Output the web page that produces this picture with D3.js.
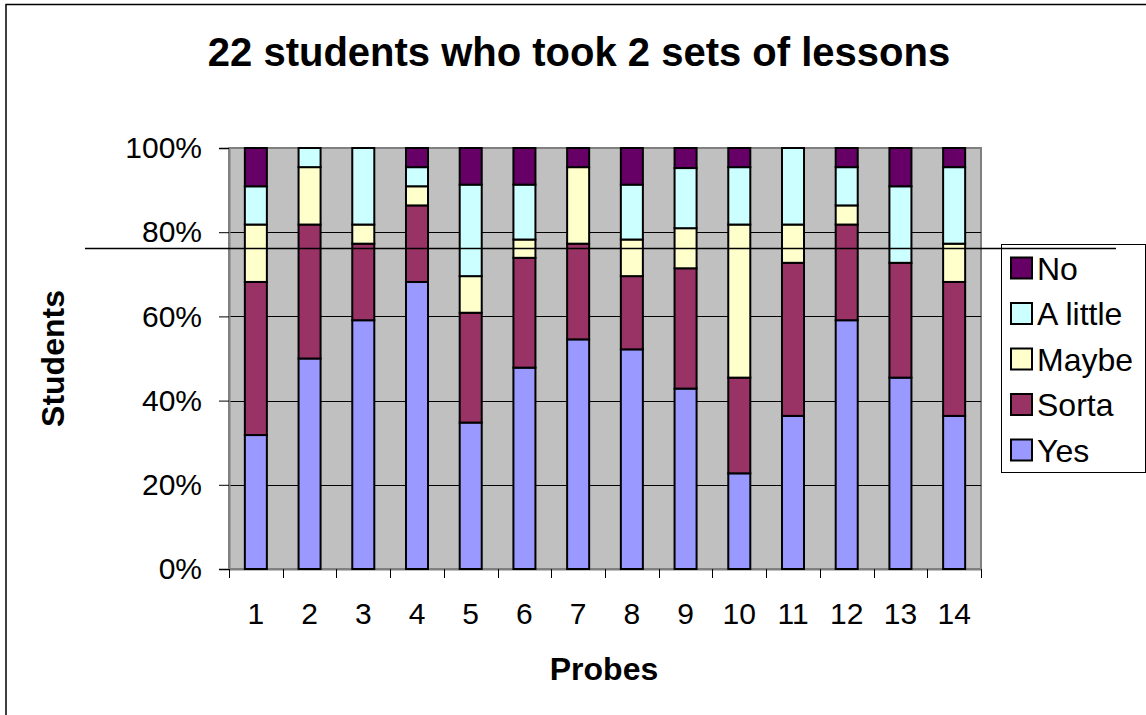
<!DOCTYPE html>
<html>
<head>
<meta charset="utf-8">
<script src="https://cdn.jsdelivr.net/npm/d3@7"></script>
<style>
    body { margin: 0; background: #fff; }
    svg { display: block; font-family: "Liberation Sans", Arial, sans-serif; }
</style>
</head>
<body>
<div id="chart"></div>
<script>
const width = 1146;
const height = 715;

// answer counts per probe (22-ish students each)
const probes = ['1', '2', '3', '4', '5', '6', '7', '8', '9', '10', '11', '12', '13', '14'];
const yes = [7, 11, 13, 15, 8, 11, 12, 12, 9, 5, 8, 13, 10, 8];
const sorta = [8, 7, 4, 4, 6, 6, 5, 4, 6, 5, 8, 5, 6, 7];
const maybe = [3, 3, 1, 1, 2, 1, 4, 2, 2, 8, 2, 1, 0, 2];
const aLittle = [2, 1, 4, 1, 5, 3, 0, 3, 3, 3, 4, 2, 4, 4];
const no = [2, 0, 0, 1, 2, 2, 1, 2, 1, 1, 0, 1, 2, 1];

const seriesNames = ['Yes', 'Sorta', 'Maybe', 'A little', 'No'];
const seriesColors = ['#9999ff', '#993366', '#ffffcc', '#ccffff', '#660066'];
const yTicks = [0, 0.2, 0.4, 0.6, 0.8, 1];

const rows = probes.map((p, i) => ({
    probe: p,
    'Yes': yes[i],
    'Sorta': sorta[i],
    'Maybe': maybe[i],
    'A little': aLittle[i],
    'No': no[i]
}));

const plot = { left: 229, right: 981, top: 148, bottom: 569 };

const svg = d3.select('#chart').append('svg')
    .attr('width', width)
    .attr('height', height);

// outer chart frame (only top and left edges show)
svg.append('rect')
    .attr('x', 6)
    .attr('y', 4.5)
    .attr('width', width + 20)
    .attr('height', height + 20)
    .attr('fill', '#fff')
    .attr('stroke', '#000')
    .attr('stroke-width', 1.5);

svg.append('text')
    .attr('x', 579)
    .attr('y', 66)
    .attr('text-anchor', 'middle')
    .attr('font-size', '40px')
    .attr('font-weight', 'bold')
    .text('22 students who took 2 sets of lessons');

const x = d3.scaleBand()
    .domain(probes)
    .range([plot.left, plot.right])
    .padding(0);

const y = d3.scaleLinear()
    .domain([0, 1])
    .range([plot.bottom, plot.top]);

const color = d3.scaleOrdinal()
    .domain(seriesNames)
    .range(seriesColors);

const stacked = d3.stack()
    .keys(seriesNames)
    .offset(d3.stackOffsetExpand)(rows);

// plot area
svg.append('rect')
    .attr('x', plot.left)
    .attr('y', plot.top)
    .attr('width', plot.right - plot.left)
    .attr('height', plot.bottom - plot.top)
    .attr('fill', '#c0c0c0')
    .attr('stroke', '#808080')
    .attr('stroke-width', 2);

svg.append('g')
    .selectAll('line')
    .data(yTicks.filter(t => t > 0 && t < 1))
    .join('line')
    .attr('x1', plot.left)
    .attr('x2', plot.right)
    .attr('y1', d => Math.round(y(d)) + 0.5)
    .attr('y2', d => Math.round(y(d)) + 0.5)
    .attr('stroke', '#000')
    .attr('stroke-width', 1);

// axes
const yAxis = svg.append('g')
    .attr('transform', `translate(${plot.left},0)`)
    .call(d3.axisLeft(y)
        .tickValues(yTicks)
        .tickFormat(d3.format('.0%'))
        .tickSize(10)
        .tickPadding(17));
yAxis.select('.domain').attr('stroke', '#808080').attr('stroke-width', 2);
yAxis.selectAll('.tick line').attr('stroke', '#000');
yAxis.selectAll('.tick text')
    .attr('font-size', '30px')
    .attr('font-family', '"Liberation Sans", Arial, sans-serif')
    .attr('fill', '#000');

const xAxis = svg.append('g')
    .attr('transform', `translate(0,${plot.bottom})`)
    .call(d3.axisBottom(x)
        .tickSize(0)
        .tickPadding(34));
xAxis.select('.domain').attr('stroke', '#808080').attr('stroke-width', 2);
xAxis.selectAll('.tick text')
    .attr('font-size', '30px')
    .attr('font-family', '"Liberation Sans", Arial, sans-serif')
    .attr('fill', '#000');

// x ticks sit between categories
const bounds = probes.map(p => x(p)).concat([x.range()[1]]);
svg.append('g')
    .selectAll('line')
    .data(bounds)
    .join('line')
    .attr('x1', d => Math.round(d) + 0.5)
    .attr('x2', d => Math.round(d) + 0.5)
    .attr('y1', plot.bottom)
    .attr('y2', plot.bottom + 9)
    .attr('stroke', '#000')
    .attr('stroke-width', 1);

// bars
const barW = x.bandwidth() * 0.41;
svg.append('g')
    .selectAll('g')
    .data(stacked)
    .join('g')
    .attr('fill', d => color(d.key))
    .selectAll('rect')
    .data(d => d.filter(s => s[1] - s[0] > 0))
    .join('rect')
    .attr('x', d => x(d.data.probe) + (x.bandwidth() - barW) / 2)
    .attr('y', d => y(d[1]))
    .attr('width', barW)
    .attr('height', d => y(d[0]) - y(d[1]))
    .attr('stroke', '#000')
    .attr('stroke-width', 2);

// axis titles
svg.append('text')
    .attr('transform', `translate(64,${(plot.top + plot.bottom) / 2}) rotate(-90)`)
    .attr('text-anchor', 'middle')
    .attr('font-size', '32px')
    .attr('font-weight', 'bold')
    .text('Students');

svg.append('text')
    .attr('x', 604)
    .attr('y', 680)
    .attr('text-anchor', 'middle')
    .attr('font-size', '32px')
    .attr('font-weight', 'bold')
    .text('Probes');

// legend
const legend = svg.append('g');
legend.append('rect')
    .attr('x', 1001.5)
    .attr('y', 244.5)
    .attr('width', 144)
    .attr('height', 228)
    .attr('fill', '#fff')
    .attr('stroke', '#000')
    .attr('stroke-width', 1);

const items = legend.selectAll('g')
    .data(seriesNames.slice().reverse())
    .join('g')
    .attr('transform', (d, i) => `translate(1011,${268 + i * 45.5})`);
items.append('rect')
    .attr('x', 0)
    .attr('y', -10.5)
    .attr('width', 21)
    .attr('height', 21)
    .attr('fill', d => color(d))
    .attr('stroke', '#000')
    .attr('stroke-width', 2);
items.append('text')
    .attr('x', 26)
    .attr('y', 11.5)
    .attr('font-size', '32px')
    .text(d => d);

// stray line across the chart
svg.append('line')
    .attr('x1', 85)
    .attr('x2', 1116)
    .attr('y1', 248.5)
    .attr('y2', 248.5)
    .attr('stroke', '#000')
    .attr('stroke-width', 1.5);
</script>
</body>
</html>
